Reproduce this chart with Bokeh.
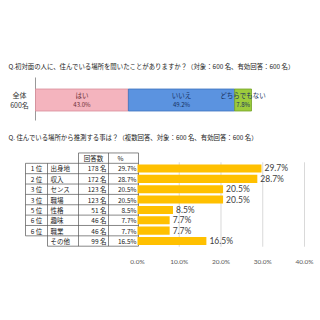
from bokeh.plotting import figure
from bokeh.models import Range1d, FixedTicker, PrintfTickFormatter, ColumnDataSource
from bokeh.core.properties import value
from bokeh.embed import file_html
from bokeh.resources import INLINE

# ---------------- data ----------------
title1 = "Q.初対面の人に、住んでいる場所を聞いたことがありますか？（対象：600 名、有効回答：600 名）"
title2 = "Q.  住んでいる場所から推測する事は？（複数回答、対象：600 名、有効回答：600 名）"

share_labels = ["はい", "いいえ", "どちらでもない"]
share_values = [43.0, 49.2, 7.8]
share_group = ["全体", "600名"]

ranks = ["1 位", "2 位", "3 位", "3 位", "5 位", "6 位", "6 位", ""]
items = ["出身地", "収入", "センス", "職場", "性格", "趣味", "職業", "その他"]
counts = [178, 172, 123, 123, 51, 46, 46, 99]
pcts = [29.7, 28.7, 20.5, 20.5, 8.5, 7.7, 7.7, 16.5]
header = ["回答数", "%"]
x_ticks = [0, 10, 20, 30, 40]

# ---------------- styles ----------------
JP = value("Noto Sans CJK JP")
NUM = value("Lato")
share_fill = ["#F4B4BE", "#5B93E0", "#9CCB3C"]
share_line = ["#D98E9A", "#3E72BE", "#74A227"]
share_text = ["#6A2C34", "#17305E", "#17305E"]
BAR = "#FFC000"

p = figure(width=320, height=320, output_backend="svg", toolbar_location=None,
           x_range=Range1d(-32.814, 43.833), y_range=Range1d(7.722, -16.216),
           min_border_left=0, min_border_right=0, min_border_top=0, min_border_bottom=72)
p.extra_x_ranges = {"px": Range1d(0, 320), "share": Range1d(-16.204, 131.944)}
p.extra_y_ranges = {"px": Range1d(248, 0)}
p.outline_line_color = None
p.background_fill_color = "white"
p.border_fill_color = "white"
p.xgrid.visible = False
p.ygrid.visible = False
p.yaxis.visible = False

ax = p.xaxis[0]
ax.ticker = FixedTicker(ticks=x_ticks)
ax.formatter = PrintfTickFormatter(format="%.1f%%")
ax.axis_line_color = None
ax.major_tick_line_color = None
ax.minor_tick_line_color = None
ax.major_label_text_font_size = "6.5px"
ax.major_label_text_color = "#595959"
ax.major_label_text_font = "Lato"
ax.major_label_standoff = 3

# ---------------- titles ----------------
p.text(x=[8, 8], y=[66, 137], text=[title1, title2], x_range_name="px", y_range_name="px",
       text_font=JP, text_font_size="6.4px", text_color="#222222",
       text_baseline="middle", text_align="left")

# ---------------- top stacked bar ----------------
lefts, rights = [], []
acc = 0.0
for v in share_values:
    lefts.append(acc)
    acc += v
    rights.append(acc)
mids = [(a + b) / 2 for a, b in zip(lefts, rights)]

p.segment(x0=[0], x1=[0], y0=[77], y1=[120], x_range_name="share", y_range_name="px",
          line_color="#999999", line_width=1)
for i in range(len(share_values)):
    p.quad(left=[lefts[i]], right=[rights[i]], top=[88.5], bottom=[110.5],
           x_range_name="share", y_range_name="px",
           fill_color=share_fill[i], line_color=share_line[i], line_width=0.8)
p.text(x=mids, y=[94] * 3, text=share_labels, x_range_name="share", y_range_name="px",
       text_font=JP, text_font_size="6.5px", text_color=share_text,
       text_align="center", text_baseline="middle")
p.text(x=mids, y=[104] * 3, text=[f"{v:.1f}%" for v in share_values],
       x_range_name="share", y_range_name="px",
       text_font=JP, text_font_size="6px", text_color=share_text,
       text_align="center", text_baseline="middle")
p.text(x=[19, 19], y=[94.5, 104], text=share_group, x_range_name="px", y_range_name="px",
       text_font=JP, text_font_size="7px", text_color="#333333",
       text_align="center", text_baseline="middle")

# ---------------- table ----------------
n = len(items)
rows = list(range(n))
LC = "#555555"
# horizontal lines
hx0, hx1, hy = [], [], []
hx0.append(78); hx1.append(138); hy.append(-1.5)
for i in range(n):
    hx0.append(25); hx1.append(138); hy.append(i - 0.5)
hx0.append(47); hx1.append(138); hy.append(n - 0.5)
p.segment(x0=hx0, x1=hx1, y0=hy, y1=hy, x_range_name="px", line_color=LC, line_width=0.7)
# vertical lines
vx = [25, 47, 78, 108, 138]
vy0 = [-0.5, -0.5, -1.5, -1.5, -1.5]
vy1 = [n - 1.5, n - 0.5, n - 0.5, n - 0.5, n - 0.5]
p.segment(x0=vx, x1=vx, y0=vy0, y1=vy1, x_range_name="px", line_color=LC, line_width=0.7)

p.text(x=[93, 120], y=[-1, -1], text=header, x_range_name="px",
       text_font=JP, text_font_size="6.5px", text_color="#222222",
       text_align="center", text_baseline="middle")
p.text(x=[36] * n, y=rows, text=ranks, x_range_name="px",
       text_font=JP, text_font_size="6.5px", text_color="#222222",
       text_align="center", text_baseline="middle")
p.text(x=[50] * n, y=rows, text=items, x_range_name="px",
       text_font=JP, text_font_size="6.5px", text_color="#222222",
       text_align="left", text_baseline="middle")
p.text(x=[106] * n, y=rows, text=[f"{c} 名" for c in counts], x_range_name="px",
       text_font=JP, text_font_size="6.5px", text_color="#222222",
       text_align="right", text_baseline="middle")
p.text(x=[136] * n, y=rows, text=[f"{v:.1f}%" for v in pcts], x_range_name="px",
       text_font=JP, text_font_size="6.5px", text_color="#222222",
       text_align="right", text_baseline="middle")

# ---------------- bar chart ----------------
grid_ticks = x_ticks[1:]
p.segment(x0=grid_ticks, x1=grid_ticks, y0=[-0.6] * len(grid_ticks), y1=[n - 0.45] * len(grid_ticks),
          line_color="#D9D9D9", line_width=1)
src = ColumnDataSource(dict(y=rows, v=pcts, lab=[f"{v:.1f}%" for v in pcts]))
p.hbar(y="y", left=0, right="v", height=0.78, source=src, fill_color=BAR, line_color=None)
p.text(x="v", y="y", text="lab", source=src, x_offset=3,
       text_font=NUM, text_font_size="8.5px", text_color="#404040",
       text_align="left", text_baseline="middle")

open("out.html", "w").write(file_html(p, INLINE))
